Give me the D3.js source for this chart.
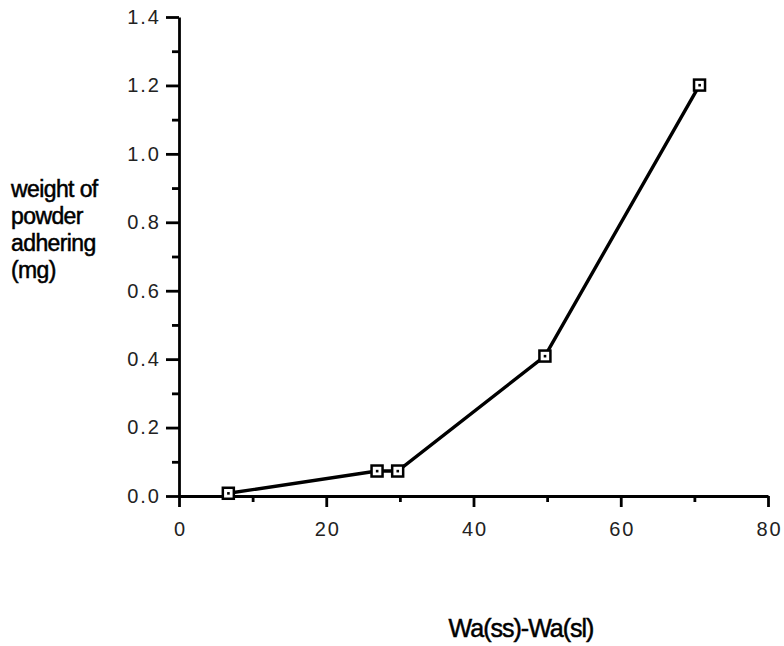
<!DOCTYPE html>
<html>
	<head>
		<meta charset="utf-8">
		<title>Powder adhering</title>
		<script src="https://d3js.org/d3.v7.min.js"></script>
		<style type="text/css">
			body { margin: 0; background: #fff; }
			.axis path,
			.axis line {
				fill: none;
				stroke: #000;
				stroke-width: 2.8px;
			}
			.axis text {
				font-family: "Liberation Sans", sans-serif;
				font-size: 20px;
				letter-spacing: 2px;
				fill: #222;
			}
			.title {
				font-family: "Liberation Sans", sans-serif;
				fill: #000;
				stroke: #000;
				stroke-width: 0.5px;
			}
		</style>
	</head>
	<body>
		<script type="text/javascript">

			//Datos
			var xValues = [6.7, 26.9, 29.7, 49.7, 70.7];
			var yValues = [0.008, 0.073, 0.073, 0.409, 1.201];

			var xMajor = [0, 20, 40, 60, 80];
			var xMinor = [10, 30, 50, 70];
			var yMajor = [0, 0.2, 0.4, 0.6, 0.8, 1.0, 1.2, 1.4];
			var yMinor = [0.1, 0.3, 0.5, 0.7, 0.9, 1.1, 1.3];

			var yTitle = ['weight of', 'powder', 'adhering', '(mg)'];
			var xTitle = 'Wa(ss)-Wa(sl)';

			var svgWidth = 784;
			var svgHeight = 646;

			var dataset = xValues.map(function(d, i) { return [d, yValues[i]]; });

			var xScale = d3.scaleLinear().domain([0, 80]).range([179, 768]);
			var yScale = d3.scaleLinear().domain([0, 1.4]).range([496, 17]);

			var svg = d3.select('body')
				.append('svg')
				.attr('width', svgWidth)
				.attr('height', svgHeight);

			//Marcas menores
			svg.append('g')
				.attr('class', 'axis')
				.attr('transform', 'translate(0,' + yScale(0) + ')')
				.call(d3.axisBottom(xScale).tickValues(xMinor).tickSize(6).tickSizeOuter(0).tickFormat(''))
				.select('.domain').remove();

			svg.append('g')
				.attr('class', 'axis')
				.attr('transform', 'translate(' + xScale(0) + ',0)')
				.call(d3.axisLeft(yScale).tickValues(yMinor).tickSize(7).tickSizeOuter(0).tickFormat(''))
				.select('.domain').remove();

			//Eje X
			var gx = svg.append('g')
				.attr('class', 'axis')
				.attr('transform', 'translate(0,' + yScale(0) + ')')
				.call(d3.axisBottom(xScale).tickValues(xMajor).tickSize(11).tickSizeOuter(0).tickPadding(15).tickFormat(d3.format('d')));
			gx.selectAll('text').attr('dx', '1px');

			//Eje Y
			svg.append('g')
				.attr('class', 'axis')
				.attr('transform', 'translate(' + xScale(0) + ',0)')
				.call(d3.axisLeft(yScale).tickValues(yMajor).tickSize(13).tickSizeOuter(0).tickPadding(5).tickFormat(d3.format('.1f')));

			//Línea
			var line = d3.line()
				.x(function(d) { return xScale(d[0]); })
				.y(function(d) { return yScale(d[1]); });

			svg.append('path')
				.datum(dataset)
				.attr('d', line)
				.attr('fill', 'none')
				.attr('stroke', '#000')
				.attr('stroke-width', 3.4);

			//Marcadores
			var marks = svg.selectAll('g.mark')
				.data(dataset)
				.enter()
				.append('g')
				.attr('class', 'mark')
				.attr('transform', function(d) {
					return 'translate(' + xScale(d[0]) + ',' + yScale(d[1]) + ')';
				});

			marks.append('rect')
				.attr('x', -5.5)
				.attr('y', -5.5)
				.attr('width', 11)
				.attr('height', 11)
				.attr('fill', '#fff')
				.attr('stroke', '#000')
				.attr('stroke-width', 2.5);

			marks.append('rect')
				.attr('x', -1.2)
				.attr('y', -1.2)
				.attr('width', 2.6)
				.attr('height', 2.6)
				.attr('fill', '#000');

			//Títulos
			svg.append('text')
				.attr('class', 'title')
				.attr('font-size', '23px')
				.attr('letter-spacing', '-0.6px')
				.selectAll('tspan')
				.data(yTitle)
				.enter()
				.append('tspan')
				.attr('x', 11)
				.attr('y', function(d, i) { return 197 + i * 27; })
				.text(function(d) { return d; });

			svg.append('text')
				.attr('class', 'title')
				.attr('x', 521)
				.attr('y', 637)
				.attr('font-size', '25px')
				.attr('text-anchor', 'middle')
				.attr('letter-spacing', '-1px')
				.text(xTitle);

		</script>
	</body>
</html>
